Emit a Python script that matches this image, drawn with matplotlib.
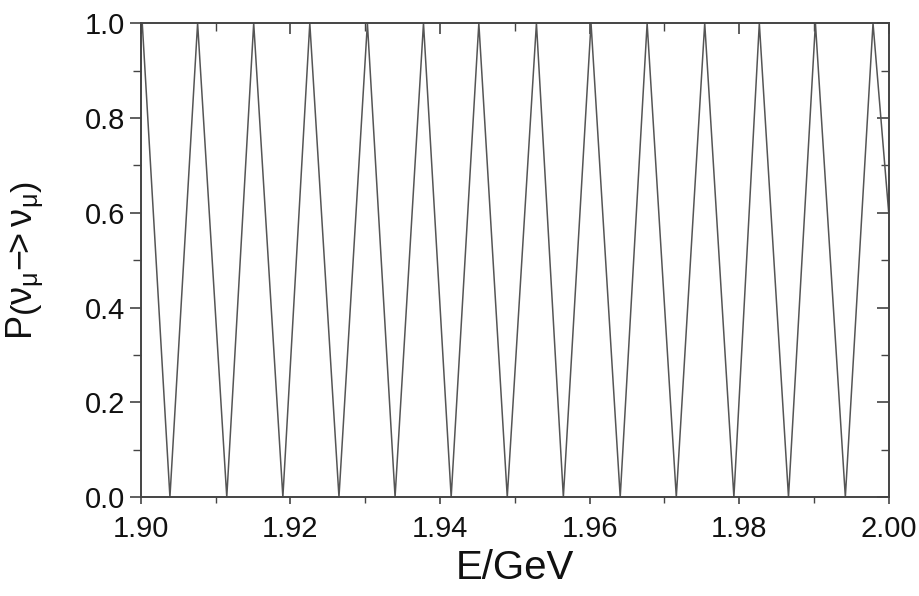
import numpy as np
import matplotlib
matplotlib.use("Agg")
import matplotlib.pyplot as plt
from matplotlib.ticker import MultipleLocator

# --- Data (energy in GeV) ---
PEAK_E = [1.9002, 1.9076, 1.9151, 1.9226, 1.9303, 1.9378, 1.9452,
          1.9529, 1.9602, 1.9677, 1.9754, 1.9827, 1.9902, 1.9979]
TROUGH_E = [1.9039, 1.9115, 1.9190, 1.9265, 1.9340, 1.9415, 1.9490,
            1.9565, 1.9641, 1.9716, 1.9793, 1.9866, 1.9942]
PEAK_P = [1.0] * len(PEAK_E)
TROUGH_P = [0.0] * len(TROUGH_E)
# curve value where it meets the right edge
END_E = [2.0000]
END_P = [0.60]

X_TICKS = [1.90, 1.92, 1.94, 1.96, 1.98, 2.00]
Y_TICKS = [0.0, 0.2, 0.4, 0.6, 0.8, 1.0]

# merge peaks, troughs and the end point into one curve, ordered by energy
e = np.array(PEAK_E + TROUGH_E + END_E)
p = np.array(PEAK_P + TROUGH_P + END_P)
order = np.argsort(e)
e, p = e[order], p[order]

plt.rcParams['font.family'] = ['Liberation Sans', 'DejaVu Sans']
plt.rcParams['mathtext.fontset'] = 'custom'
plt.rcParams['mathtext.rm'] = 'Liberation Sans'
plt.rcParams['mathtext.it'] = 'Liberation Sans'

fig = plt.figure(figsize=(9.2, 5.96), dpi=100)
ax = fig.add_axes([0.153, 0.166, 0.813, 0.795])

ax.plot(e, p, color='#555555', linewidth=1.1)

ax.set_xlim(1.90, 2.00)
ax.set_ylim(0.0, 1.0)
ax.set_xticks(X_TICKS)
ax.set_yticks(Y_TICKS)
ax.set_xticklabels([f"{v:.2f}" for v in X_TICKS])
ax.set_yticklabels([f"{v:.1f}" for v in Y_TICKS])
ax.xaxis.set_minor_locator(MultipleLocator(0.01))
ax.yaxis.set_minor_locator(MultipleLocator(0.1))

for s in ax.spines.values():
    s.set_color('#444444')
    s.set_linewidth(1.4)

ax.tick_params(axis='both', which='major', labelsize=21, colors='#444444',
               labelcolor='#111111', width=1.2)
ax.tick_params(axis='both', which='minor', colors='#444444', width=1.0)
ax.tick_params(axis='x', which='major', direction='out', length=5, top=True, pad=8)
ax.tick_params(axis='x', which='minor', direction='out', length=4, top=True)
ax.tick_params(axis='y', which='major', direction='out', length=8, right=True)
ax.tick_params(axis='y', which='minor', direction='out', length=6, right=True)

# ticks on top and right point inward, as in the original
for t in ax.xaxis.get_ticklines(minor=False)[1::2]:
    t.set_marker(3)
    t.set_markersize(8)
for t in ax.xaxis.get_ticklines(minor=True)[1::2]:
    t.set_marker(3)
    t.set_markersize(6)
for t in ax.yaxis.get_ticklines(minor=False)[1::2]:
    t.set_marker(0)
    t.set_markersize(9)
for t in ax.yaxis.get_ticklines(minor=True)[1::2]:
    t.set_marker(0)
    t.set_markersize(6)

ax.set_xlabel('E/GeV', fontsize=29, color='#111111', labelpad=4)
ax.set_ylabel(r'P$\left(\mathrm{\nu}_{\mu}\mathrm{-}\!\!>\mathrm{\nu}_{\mu}\right)$', fontsize=26,
              color='#111111', labelpad=28)

fig.savefig('out.png', dpi=100, facecolor='white')
